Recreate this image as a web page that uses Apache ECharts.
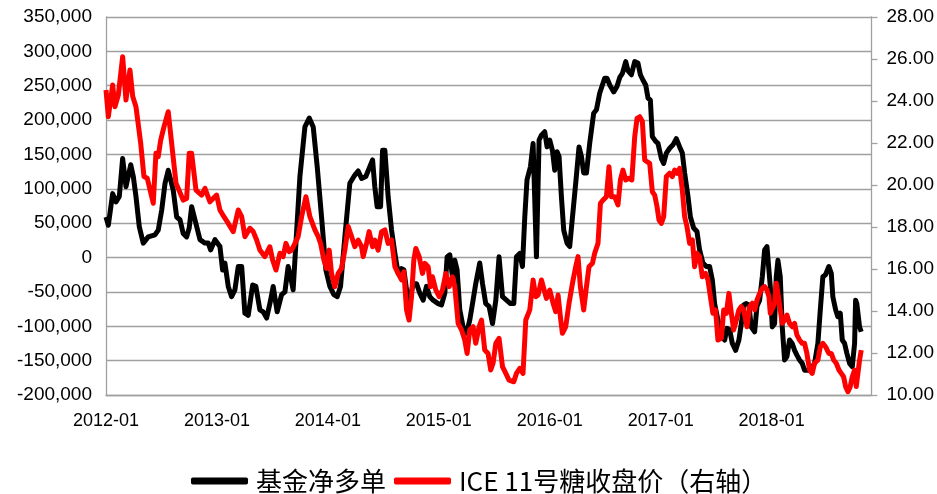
<!DOCTYPE html>
<html><head><meta charset="utf-8">
<script src="https://cdn.jsdelivr.net/npm/echarts@6/dist/echarts.min.js"></script>
<style>html,body{margin:0;padding:0;background:#fff}#c{width:937px;height:494px}</style>
</head><body><div id="c"></div>
<script>
const xTickLabels = ['2012-01','2013-01','2014-01','2015-01','2016-01','2017-01','2018-01'];
const seriesNames = ['基金净多单', 'ICE 11号糖收盘价（右轴）'];

// 基金净多单 (time in years, net long contracts)
const blackYears = [
2012.000,2012.021,2012.060,2012.090,2012.120,2012.150,2012.180,2012.223,2012.246,2012.270,
2012.300,2012.336,2012.381,2012.441,2012.471,2012.502,2012.532,2012.561,2012.606,2012.637,
2012.667,2012.696,2012.727,2012.750,2012.772,2012.802,2012.847,2012.892,2012.922,2012.943,
2012.982,2013.027,2013.051,2013.072,2013.102,2013.132,2013.162,2013.192,2013.223,2013.252,
2013.282,2013.322,2013.351,2013.387,2013.417,2013.448,2013.484,2013.507,2013.543,2013.583,
2013.613,2013.642,2013.664,2013.687,2013.712,2013.748,2013.793,2013.832,2013.868,2013.904,
2013.943,2013.982,2014.018,2014.054,2014.084,2014.114,2014.153,2014.198,2014.243,2014.273,
2014.304,2014.342,2014.403,2014.423,2014.444,2014.475,2014.493,2014.514,2014.543,2014.574,
2014.604,2014.633,2014.664,2014.685,2014.709,2014.739,2014.768,2014.799,2014.829,2014.859,
2014.889,2014.919,2014.949,2014.994,2015.024,2015.054,2015.075,2015.099,2015.123,2015.144,
2015.165,2015.189,2015.219,2015.250,2015.279,2015.309,2015.333,2015.369,2015.394,2015.423,
2015.453,2015.484,2015.514,2015.543,2015.574,2015.610,2015.646,2015.676,2015.700,2015.730,
2015.754,2015.775,2015.795,2015.826,2015.850,2015.868,2015.880,2015.895,2015.904,2015.925,
2015.955,2015.976,2016.000,2016.024,2016.045,2016.066,2016.084,2016.105,2016.126,2016.156,
2016.180,2016.205,2016.234,2016.264,2016.286,2016.306,2016.331,2016.360,2016.396,2016.421,
2016.450,2016.495,2016.516,2016.541,2016.577,2016.606,2016.631,2016.655,2016.685,2016.705,
2016.736,2016.766,2016.795,2016.817,2016.841,2016.865,2016.886,2016.907,2016.925,2016.955,
2016.976,2017.006,2017.027,2017.051,2017.081,2017.111,2017.141,2017.171,2017.195,2017.216,
2017.246,2017.268,2017.297,2017.327,2017.351,2017.381,2017.412,2017.441,2017.466,2017.486,
2017.516,2017.547,2017.577,2017.597,2017.622,2017.646,2017.676,2017.705,2017.727,2017.748,
2017.772,2017.795,2017.817,2017.847,2017.868,2017.892,2017.916,2017.937,2017.958,2017.976,
2017.988,2018.006,2018.027,2018.042,2018.057,2018.078,2018.096,2018.117,2018.138,2018.162,
2018.186,2018.207,2018.228,2018.252,2018.276,2018.297,2018.349,2018.387,2018.417,2018.439,
2018.462,2018.486,2018.516,2018.538,2018.552,2018.577,2018.597,2018.619,2018.637,2018.658,
2018.678,2018.703,2018.727,2018.748,2018.757,2018.768,2018.793,2018.808];
const blackValues = [
59000,47000,93000,81000,89000,144000,103000,135000,118000,89000,
45000,21000,30000,33000,40000,69000,108000,127000,98000,59000,
55000,35000,30000,43000,74000,55000,26000,21000,21000,11000,
26000,16000,-18000,-8000,-42000,-57000,-47000,-13000,-13000,-81000,
-84000,-40000,-42000,-76000,-79000,-88000,-62000,-42000,-79000,-54000,
-50000,-13000,-28000,-47000,21000,118000,190000,203000,190000,132000,
59000,-18000,-42000,-54000,-57000,-42000,30000,108000,120000,126000,
115000,118000,142000,103000,74000,74000,156000,156000,89000,40000,
6000,-23000,-16000,-18000,-47000,-62000,-38000,-38000,-52000,-62000,
-42000,-57000,-62000,-67000,-69000,-52000,1000,4000,-28000,-4000,
-18000,-76000,-101000,-110000,-91000,-62000,-38000,-8000,-38000,-67000,
-71000,-96000,-62000,1000,-57000,-62000,-67000,-67000,1000,6000,
-13000,59000,113000,132000,166000,166000,1000,1000,171000,178000,
183000,161000,171000,156000,127000,154000,147000,89000,40000,21000,
16000,59000,108000,161000,147000,123000,123000,166000,210000,215000,
239000,261000,261000,251000,241000,249000,262000,268000,285000,272000,
266000,285000,283000,266000,258000,251000,232000,229000,176000,169000,
166000,144000,137000,152000,159000,164000,173000,161000,152000,123000,
89000,59000,43000,38000,11000,-8000,-13000,-13000,-33000,-67000,
-91000,-115000,-120000,-103000,-105000,-125000,-135000,-120000,-96000,-69000,
-67000,-69000,-101000,-108000,-71000,-62000,-28000,11000,16000,16000,
-42000,-101000,-96000,-28000,-4000,-28000,-101000,-149000,-144000,-120000,
-125000,-135000,-142000,-149000,-154000,-164000,-164000,-154000,-125000,-76000,
-28000,-25000,-13000,-23000,-57000,-76000,-86000,-81000,-120000,-125000,
-139000,-154000,-159000,-125000,-62000,-67000,-101000,-108000];

// ICE 11号糖收盘价 (time in years, cents/lb)
const redYears = [
2012.000,2012.021,2012.060,2012.081,2012.111,2012.150,2012.180,2012.216,2012.241,2012.270,
2012.313,2012.342,2012.372,2012.426,2012.450,2012.471,2012.493,2012.523,2012.561,2012.592,
2012.631,2012.696,2012.727,2012.750,2012.772,2012.811,2012.862,2012.892,2012.937,2012.997,
2013.027,2013.063,2013.102,2013.147,2013.192,2013.223,2013.252,2013.297,2013.327,2013.358,
2013.387,2013.432,2013.477,2013.502,2013.532,2013.568,2013.597,2013.622,2013.651,2013.673,
2013.703,2013.732,2013.763,2013.802,2013.838,2013.883,2013.913,2013.934,2013.964,2013.988,
2014.012,2014.033,2014.063,2014.093,2014.123,2014.153,2014.183,2014.214,2014.243,2014.273,
2014.304,2014.318,2014.349,2014.372,2014.403,2014.423,2014.453,2014.484,2014.514,2014.543,
2014.574,2014.604,2014.633,2014.664,2014.685,2014.709,2014.732,2014.754,2014.775,2014.793,
2014.823,2014.853,2014.874,2014.904,2014.925,2014.943,2014.973,2015.003,2015.033,2015.063,
2015.093,2015.123,2015.144,2015.174,2015.205,2015.234,2015.255,2015.279,2015.309,2015.333,
2015.363,2015.385,2015.414,2015.444,2015.468,2015.489,2015.514,2015.543,2015.574,2015.604,
2015.633,2015.676,2015.700,2015.730,2015.759,2015.784,2015.820,2015.850,2015.874,2015.895,
2015.925,2015.946,2015.970,2016.000,2016.030,2016.054,2016.075,2016.096,2016.114,2016.144,
2016.174,2016.205,2016.234,2016.255,2016.276,2016.306,2016.331,2016.354,2016.385,2016.405,
2016.435,2016.457,2016.480,2016.511,2016.534,2016.556,2016.586,2016.615,2016.637,2016.660,
2016.685,2016.712,2016.740,2016.766,2016.787,2016.811,2016.835,2016.856,2016.877,2016.901,
2016.925,2016.946,2016.967,2016.985,2017.006,2017.027,2017.051,2017.081,2017.105,2017.126,
2017.147,2017.171,2017.195,2017.216,2017.237,2017.261,2017.286,2017.306,2017.327,2017.351,
2017.375,2017.405,2017.426,2017.448,2017.471,2017.495,2017.516,2017.547,2017.568,2017.592,
2017.615,2017.637,2017.658,2017.682,2017.705,2017.727,2017.748,2017.778,2017.802,2017.826,
2017.847,2017.868,2017.892,2017.916,2017.937,2017.958,2017.976,2017.988,2018.006,2018.027,
2018.042,2018.057,2018.078,2018.096,2018.117,2018.138,2018.162,2018.186,2018.207,2018.228,
2018.252,2018.276,2018.297,2018.318,2018.342,2018.366,2018.387,2018.417,2018.439,2018.462,
2018.486,2018.516,2018.538,2018.559,2018.583,2018.607,2018.628,2018.649,2018.667,2018.688,
2018.709,2018.727,2018.748,2018.763,2018.778,2018.793,2018.808];
const redValues = [
24.52,23.25,24.76,23.73,24.28,26.11,24.05,25.48,24.21,23.73,
21.98,20.40,20.32,19.13,21.51,21.35,22.14,22.78,23.49,21.98,
20.08,19.28,19.36,21.51,21.51,19.76,19.52,19.84,19.20,19.52,
18.81,18.49,18.17,17.78,18.81,18.49,17.54,17.94,17.78,17.38,
16.90,16.59,17.06,16.43,15.95,16.75,16.59,17.22,16.83,16.90,
17.22,17.54,18.49,19.44,18.49,17.86,17.54,17.22,16.43,16.03,
16.90,15.79,15.16,15.79,16.03,16.90,18.02,17.54,17.06,17.38,
17.06,16.59,17.22,17.78,17.06,17.38,16.90,17.78,17.86,17.22,
17.38,16.11,15.79,15.48,15.87,14.05,13.57,14.68,16.43,16.98,
16.59,15.79,16.27,16.11,15.16,15.63,15.00,14.68,15.00,15.79,
15.16,15.63,15.16,13.41,13.10,12.62,11.98,13.10,13.25,12.46,
13.25,13.57,12.14,11.98,11.19,11.51,12.46,12.70,11.35,11.03,
10.71,10.63,11.03,11.27,11.03,13.57,14.05,15.48,14.68,14.76,
15.48,15.08,14.60,15.00,14.37,13.97,14.76,13.73,12.94,13.25,
14.37,15.32,16.11,16.59,15.16,14.05,15.16,16.11,16.27,16.75,
17.22,19.13,19.28,19.44,20.87,19.44,19.44,19.05,20.24,20.71,
20.24,20.32,20.24,22.30,23.17,23.25,23.02,21.19,21.11,21.03,
19.68,19.52,18.97,18.33,18.17,18.49,20.40,20.56,20.40,20.71,
20.56,20.79,19.76,18.49,18.02,17.22,17.38,16.11,16.75,16.59,
15.63,15.79,15.48,14.68,13.89,14.05,12.62,12.70,14.05,13.89,
14.84,13.89,13.10,13.57,14.05,14.21,14.05,13.25,14.21,14.37,
14.05,14.52,14.84,15.08,15.16,15.00,14.68,13.89,13.81,14.37,
15.32,14.84,14.05,13.41,13.57,13.81,13.41,13.25,13.41,12.86,
12.62,12.46,12.46,11.98,11.19,11.03,11.51,11.67,12.30,12.46,
12.30,11.98,11.98,11.67,11.51,11.19,11.03,10.87,10.40,10.16,
10.40,10.87,11.19,10.40,10.40,11.67,12.14];

const leftMin = -200000, leftMax = 350000, leftStep = 50000;
const rightMin = 10, rightMax = 28, rightStep = 2;

const zip = (xs, ys) => xs.map((x, i) => [x, ys[i]]);
const gridColor = '#a0a0a0';
const labelFont = {fontSize: 19, color: '#000', fontFamily: 'Liberation Sans'};

const chart = echarts.init(document.getElementById('c'), null, {renderer: 'canvas'});
chart.setOption({
  animation: false,
  backgroundColor: '#fff',
  grid: {left: 106, right: 65, top: 17, bottom: 99, containLabel: false},
  legend: {
    data: seriesNames, left: 186, top: 463,
    icon: 'roundRect', itemWidth: 57, itemHeight: 7, itemGap: 8,
    textStyle: {fontSize: 26, color: '#000', fontFamily: 'Noto Sans CJK SC', padding: [0, 0, 0, 3]}
  },
  xAxis: {
    type: 'value', min: 2012, max: 2018.9, interval: 1,
    axisLine: {onZero: false, lineStyle: {color: gridColor, width: 1.3}},
    axisTick: {show: false},
    splitLine: {show: false},
    axisLabel: Object.assign({margin: 17, showMaxLabel: false,
      formatter: v => {
        const i = Math.round(v - 2012);
        return Math.abs(v - 2012 - i) < 1e-6 && xTickLabels[i] ? xTickLabels[i] : '';
      }}, labelFont, {fontSize: 18})
  },
  yAxis: [{
    type: 'value', min: leftMin, max: leftMax, interval: leftStep, position: 'left',
    axisLine: {show: true, lineStyle: {color: gridColor, width: 1.3}},
    axisTick: {show: false},
    splitLine: {show: true, lineStyle: {color: gridColor, width: 1.3}},
    axisLabel: Object.assign({margin: 14, formatter: v => v.toLocaleString('en-US')}, labelFont)
  }, {
    type: 'value', min: rightMin, max: rightMax, interval: rightStep, position: 'right',
    axisLine: {show: true, lineStyle: {color: gridColor, width: 1.3}},
    axisTick: {show: true, length: 6, lineStyle: {color: gridColor, width: 1.3}},
    splitLine: {show: false},
    axisLabel: Object.assign({margin: 15, formatter: v => v.toFixed(2)}, labelFont)
  }],
  series: [{
    name: seriesNames[0], type: 'line', yAxisIndex: 0,
    data: zip(blackYears, blackValues),
    showSymbol: false, symbol: 'none',
    lineStyle: {color: '#000', width: 5, join: 'round'},
    itemStyle: {color: '#000'}
  }, {
    name: seriesNames[1], type: 'line', yAxisIndex: 1,
    data: zip(redYears, redValues),
    showSymbol: false, symbol: 'none',
    lineStyle: {color: '#ff0000', width: 5, join: 'round'},
    itemStyle: {color: '#ff0000'}
  }]
});
</script></body></html>
